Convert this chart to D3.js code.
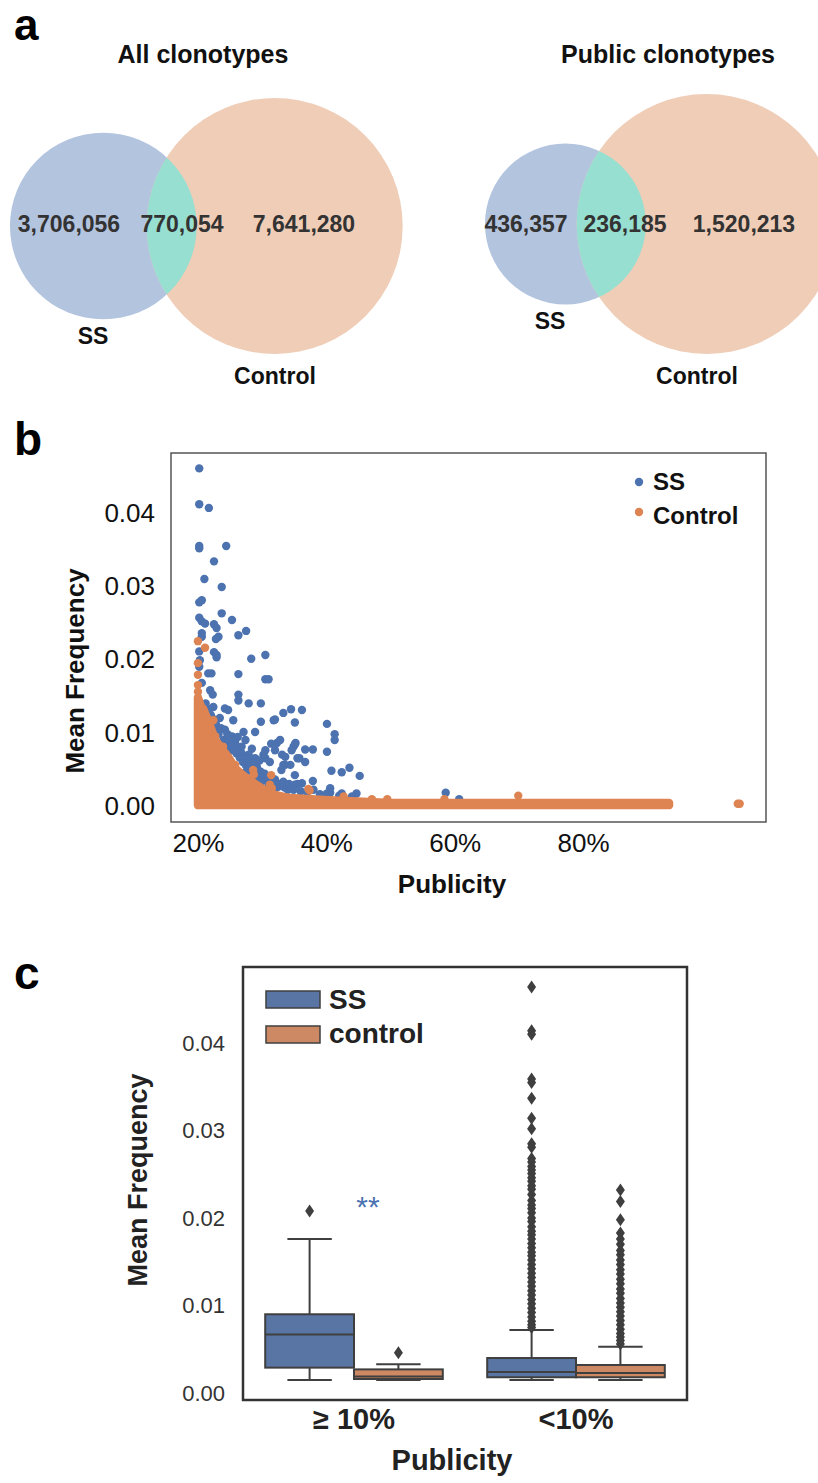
<!DOCTYPE html>
<html>
<head>
<meta charset="utf-8">
<script src="https://cdn.jsdelivr.net/npm/d3@7"></script>
<style>
  body { margin: 0; background: #fff; }
  text { font-family: "Liberation Sans", Arial, Helvetica, sans-serif; }
</style>
</head>
<body>
<div id="chart"></div>
<script>
// ---- panel a : venn counts
var vennTitles = ["All clonotypes", "Public clonotypes"];
var vennSSOnly = [3706056, 436357];
var vennBoth = [770054, 236185];
var vennCtrlOnly = [7641280, 1520213];
var vennSetNames = ["SS", "Control"];

// ---- panel b : publicity vs mean frequency
var ssPoints = [
  [0.202, 0.0461], [0.202, 0.0412], [0.217, 0.0407], [0.202, 0.0355], [0.202, 0.0352], [0.244, 0.0355],
  [0.225, 0.0334], [0.210, 0.0310], [0.237, 0.0299], [0.202, 0.0278], [0.206, 0.0281], [0.237, 0.0263],
  [0.253, 0.0254], [0.202, 0.0257], [0.206, 0.0252], [0.211, 0.0249], [0.225, 0.0248], [0.229, 0.0243],
  [0.275, 0.0239], [0.263, 0.0233], [0.206, 0.0236], [0.206, 0.0231], [0.232, 0.0231], [0.228, 0.0228],
  [0.202, 0.0211], [0.225, 0.0210], [0.229, 0.0206], [0.229, 0.0203], [0.283, 0.0201], [0.305, 0.0206],
  [0.203, 0.0199], [0.202, 0.0190], [0.216, 0.0181], [0.221, 0.0181], [0.263, 0.0180], [0.305, 0.0173],
  [0.310, 0.0173], [0.206, 0.0168], [0.219, 0.0158], [0.223, 0.0152], [0.263, 0.0152], [0.263, 0.0144],
  [0.279, 0.0140], [0.298, 0.0140], [0.224, 0.0135], [0.242, 0.0133], [0.247, 0.0131], [0.333, 0.0127],
  [0.345, 0.0132], [0.362, 0.0131], [0.234, 0.0120], [0.255, 0.0117], [0.225, 0.0115], [0.298, 0.0115],
  [0.318, 0.0117], [0.320, 0.0118], [0.351, 0.0114], [0.401, 0.0112], [0.242, 0.0104], [0.232, 0.0103],
  [0.271, 0.0101], [0.289, 0.0101], [0.253, 0.0095], [0.413, 0.0098], [0.413, 0.0090], [0.258, 0.0086],
  [0.314, 0.0085], [0.323, 0.0086], [0.328, 0.0090], [0.352, 0.0086], [0.349, 0.0081], [0.351, 0.0084],
  [0.268, 0.0081], [0.253, 0.0076], [0.305, 0.0076], [0.320, 0.0076], [0.346, 0.0076], [0.367, 0.0077],
  [0.379, 0.0077], [0.401, 0.0074], [0.279, 0.0070], [0.302, 0.0070], [0.331, 0.0070], [0.289, 0.0065],
  [0.305, 0.0065], [0.336, 0.0067], [0.355, 0.0065], [0.358, 0.0065], [0.367, 0.0060], [0.291, 0.0056],
  [0.333, 0.0056], [0.336, 0.0056], [0.344, 0.0056], [0.297, 0.0047], [0.273, 0.0045], [0.330, 0.0049],
  [0.408, 0.0048], [0.424, 0.0046], [0.436, 0.0052], [0.452, 0.0041], [0.312, 0.0040], [0.305, 0.0036],
  [0.284, 0.0036], [0.351, 0.0042], [0.320, 0.0036], [0.379, 0.0034], [0.362, 0.0031], [0.351, 0.0029],
  [0.355, 0.0030], [0.320, 0.0024], [0.349, 0.0022], [0.406, 0.0024], [0.380, 0.0022], [0.406, 0.0018],
  [0.424, 0.0017], [0.447, 0.0017], [0.401, 0.0017], [0.586, 0.0018], [0.607, 0.0009],
  // blue mass just above the control cloud
  [0.215, 0.0128], [0.220, 0.0124], [0.226, 0.0110], [0.232, 0.0098], [0.240, 0.0090], [0.245, 0.0085],
  [0.250, 0.0080], [0.260, 0.0072], [0.265, 0.0066], [0.270, 0.0060], [0.275, 0.0055], [0.280, 0.0050],
  [0.285, 0.0046], [0.290, 0.0042], [0.295, 0.0038], [0.300, 0.0034], [0.310, 0.0030], [0.315, 0.0027],
  [0.325, 0.0026], [0.335, 0.0025], [0.340, 0.0022], [0.360, 0.0020], [0.370, 0.0019], [0.390, 0.0016],
  [0.420, 0.0014], [0.440, 0.0013], [0.212, 0.0140], [0.218, 0.0132], [0.222, 0.0120], [0.228, 0.0112],
  [0.236, 0.0106], [0.246, 0.0098], [0.250, 0.0090], [0.256, 0.0082], [0.262, 0.0078], [0.268, 0.0072],
  [0.274, 0.0066], [0.280, 0.0060], [0.286, 0.0058], [0.292, 0.0052], [0.298, 0.0046], [0.304, 0.0044],
  [0.310, 0.0038], [0.318, 0.0032], [0.326, 0.0030], [0.333, 0.0033], [0.342, 0.0030], [0.296, 0.0062],
  [0.312, 0.0060], [0.284, 0.0078], [0.274, 0.0090], [0.262, 0.0094]
];
var ctrlPoints = [
  [0.200, 0.0225], [0.211, 0.0216], [0.200, 0.0195], [0.200, 0.0179], [0.200, 0.0165], [0.200, 0.0156],
  [0.203, 0.0133], [0.224, 0.0117], [0.227, 0.0095], [0.239, 0.0081], [0.258, 0.0056], [0.286, 0.0049],
  [0.287, 0.0043], [0.314, 0.0042], [0.312, 0.0029], [0.315, 0.0024], [0.372, 0.0023], [0.374, 0.0021],
  [0.427, 0.0013], [0.471, 0.0009], [0.495, 0.0009], [0.584, 0.0009], [0.699, 0.0014], [1.041, 0.0003],
  [1.044, 0.0003]
];
// upper edge of the dense control cloud (too many points to list one by one)
var ctrlCloudX = [0.200, 0.205, 0.208, 0.216, 0.227, 0.237, 0.247, 0.258, 0.273, 0.289, 0.305, 0.320,
  0.336, 0.344, 0.396, 0.448, 0.500, 0.600, 0.700, 0.800, 0.934];
var ctrlCloudTop = [0.0148, 0.0135, 0.0133, 0.0116, 0.0090, 0.0078, 0.0067, 0.0051, 0.0040, 0.0030, 0.0021,
  0.0015, 0.0012, 0.0011, 0.0008, 0.0006, 0.0004, 0.0004, 0.0004, 0.0004, 0.0004];
var ctrlCloudBottom = 0.0001;
var scatterYTicks = [0, 0.01, 0.02, 0.03, 0.04];
var scatterXTicks = [0.2, 0.4, 0.6, 0.8];

// ---- panel c : box plots  [low whisker, q1, median, q3, high whisker]
var boxCategories = ["\u2265 10%", "<10%"];
var boxGroups = ["SS", "control"];
var ssBoxStats = [[0.0015, 0.0029, 0.0067, 0.0090, 0.0176], [0.0015, 0.0018, 0.0024, 0.0040, 0.0072]];
var ctrlBoxStats = [[0.0015, 0.0016, 0.0019, 0.0027, 0.0033], [0.0015, 0.0018, 0.0023, 0.0032, 0.0053]];
var ssOutliers = [
  [0.0208],
  [0.0464, 0.0414, 0.0410, 0.0359, 0.0355, 0.0337, 0.0314, 0.0302, 0.0285, 0.0281, 0.0268, 0.0264,
   0.0259, 0.0255, 0.0251, 0.0246, 0.0242, 0.0237, 0.0233, 0.0227, 0.0220, 0.0215, 0.0211, 0.0206,
   0.0200, 0.0196, 0.0190, 0.0185, 0.0181, 0.0176, 0.0171, 0.0166, 0.0161, 0.0157, 0.0152, 0.0147,
   0.0142, 0.0137, 0.0132, 0.0127, 0.0122, 0.0117, 0.0112, 0.0107, 0.0102, 0.0097, 0.0092, 0.0087,
   0.0082, 0.0078, 0.0075]
];
var ctrlOutliers = [
  [0.0046],
  [0.0232, 0.0219, 0.0198, 0.0183, 0.0176, 0.0170, 0.0163, 0.0158, 0.0152, 0.0147, 0.0141, 0.0136,
   0.0130, 0.0125, 0.0119, 0.0114, 0.0108, 0.0103, 0.0098, 0.0093, 0.0088, 0.0083, 0.0078, 0.0073,
   0.0068, 0.0064, 0.0060, 0.0056]
];
var boxYTicks = [0, 0.01, 0.02, 0.03, 0.04];

var blue = "#4c72b0", orange = "#dd8452";
var boxBlue = "#5975a4", boxOrange = "#cc8963", boxLine = "#3f3f3f";

var svg = d3.select("#chart").append("svg")
  .attr("width", 818)
  .attr("height", 1483);

// panel letters
var letters = [["a", 14, 40, 44], ["b", 14, 455, 46], ["c", 14, 989, 46]];
svg.selectAll(".letter")
  .data(letters)
  .enter()
  .append("text")
  .attr("class", "letter")
  .attr("x", function (d) { return d[1]; })
  .attr("y", function (d) { return d[2]; })
  .style("font-size", function (d) { return d[3] + "px"; })
  .style("font-weight", "bold")
  .attr("fill", "#000")
  .text(function (d) { return d[0]; });

//Venn diagrams
var vennLayout = [
  { mid: 189, cy: 226, rCtrl: 128, titleX: 203, labelX: [69, 182, 304], ssLabelX: 93, ctrlLabelX: 275 },
  { mid: 636, cy: 224, rCtrl: 130, titleX: 668, labelX: [526, 625, 744], ssLabelX: 550, ctrlLabelX: 697 }
];

function lensArea(r1, r2, d) {
  if (d >= r1 + r2) return 0;
  if (d <= Math.abs(r1 - r2)) return Math.PI * Math.min(r1, r2) * Math.min(r1, r2);
  var a1 = Math.acos((d * d + r1 * r1 - r2 * r2) / (2 * d * r1));
  var a2 = Math.acos((d * d + r2 * r2 - r1 * r1) / (2 * d * r2));
  var k = Math.sqrt((-d + r1 + r2) * (d + r1 - r2) * (d - r1 + r2) * (d + r1 + r2));
  return r1 * r1 * a1 + r2 * r2 * a2 - 0.5 * k;
}

vennTitles.forEach(function (title, i) {
  var L = vennLayout[i];
  var ssTotal = vennSSOnly[i] + vennBoth[i];
  var ctrlTotal = vennCtrlOnly[i] + vennBoth[i];
  var r = d3.scaleSqrt().domain([0, ctrlTotal]).range([0, L.rCtrl]);
  var rSS = r(ssTotal), rCtrl = r(ctrlTotal);
  var target = Math.PI * r(vennBoth[i]) * r(vennBoth[i]);
  // find centre distance giving the overlap area
  var lo = Math.abs(rCtrl - rSS), hi = rSS + rCtrl;
  for (var it = 0; it < 60; it++) {
    var m = (lo + hi) / 2;
    if (lensArea(rSS, rCtrl, m) > target) lo = m; else hi = m;
  }
  var dist = (lo + hi) / 2;
  var ssX = L.mid - dist / 2, ctrlX = L.mid + dist / 2;

  var g = svg.append("g");
  g.append("clipPath").attr("id", "ssclip" + i)
    .append("circle").attr("cx", ssX).attr("cy", L.cy).attr("r", rSS);
  g.append("circle").attr("cx", ssX).attr("cy", L.cy).attr("r", rSS).attr("fill", "#b3c4df");
  g.append("circle").attr("cx", ctrlX).attr("cy", L.cy).attr("r", rCtrl).attr("fill", "#f0cdb7");
  g.append("circle").attr("cx", ctrlX).attr("cy", L.cy).attr("r", rCtrl)
    .attr("clip-path", "url(#ssclip" + i + ")")
    .attr("fill", "#97dfd1");

  g.append("text")
    .attr("x", L.titleX).attr("y", 63)
    .attr("text-anchor", "middle")
    .style("font-size", "25px").style("font-weight", "bold")
    .attr("fill", "#111")
    .text(title);

  var counts = [vennSSOnly[i], vennBoth[i], vennCtrlOnly[i]];
  g.selectAll(".count")
    .data(counts)
    .enter()
    .append("text")
    .attr("class", "count")
    .attr("x", function (d, j) { return L.labelX[j]; })
    .attr("y", 232)
    .attr("text-anchor", "middle")
    .style("font-size", "23px").style("font-weight", "bold")
    .attr("fill", "#333")
    .text(function (d) { return d3.format(",")(d); });

  g.append("text")
    .attr("x", L.ssLabelX).attr("y", L.cy + rSS + 25)
    .attr("text-anchor", "middle")
    .style("font-size", "23px").style("font-weight", "bold")
    .attr("fill", "#111")
    .text(vennSetNames[0]);
  g.append("text")
    .attr("x", L.ctrlLabelX).attr("y", L.cy + rCtrl + 30)
    .attr("text-anchor", "middle")
    .style("font-size", "23px").style("font-weight", "bold")
    .attr("fill", "#111")
    .text(vennSetNames[1]);
});

//Scatter
var xB = d3.scaleLinear().domain([0.158, 1.085]).range([171, 766]);
var yB = d3.scaleLinear().domain([-0.0022, 0.0482]).range([822, 453]);
var gb = svg.append("g");

gb.selectAll(".ss")
  .data(ssPoints)
  .enter()
  .append("circle")
  .attr("class", "ss")
  .attr("cx", function (d) { return xB(d[0]); })
  .attr("cy", function (d) { return yB(d[1]); })
  .attr("r", 4.2)
  .attr("fill", blue);

var cloud = ctrlCloudX.map(function (x, i) { return [x, ctrlCloudTop[i]]; });
gb.append("path")
  .datum(cloud)
  .attr("d", d3.area()
    .x(function (d) { return xB(d[0]); })
    .y0(yB(ctrlCloudBottom))
    .y1(function (d) { return yB(d[1]); }))
  .attr("fill", orange)
  .attr("stroke", orange)
  .attr("stroke-width", 8.4)
  .attr("stroke-linejoin", "round");

gb.selectAll(".ctrl")
  .data(ctrlPoints)
  .enter()
  .append("circle")
  .attr("class", "ctrl")
  .attr("cx", function (d) { return xB(d[0]); })
  .attr("cy", function (d) { return yB(d[1]); })
  .attr("r", 4.2)
  .attr("fill", orange);

gb.append("rect")
  .attr("x", 171).attr("y", 453)
  .attr("width", 595).attr("height", 369)
  .attr("fill", "none")
  .attr("stroke", "#555")
  .attr("stroke-width", 1.5);

var axYB = gb.append("g").attr("transform", "translate(171,0)")
  .call(d3.axisLeft(yB).tickValues(scatterYTicks).tickSize(0).tickPadding(16).tickFormat(d3.format(".2f")));
var axXB = gb.append("g").attr("transform", "translate(0,822)")
  .call(d3.axisBottom(xB).tickValues(scatterXTicks).tickSize(0).tickPadding(12).tickFormat(d3.format(".0%")));
[axYB, axXB].forEach(function (ax) {
  ax.select(".domain").remove();
  ax.selectAll("text")
    .style("font-family", "'Liberation Sans', Arial, sans-serif")
    .style("font-size", "26px")
    .attr("fill", "#111");
});

gb.append("text")
  .attr("transform", "translate(84,671) rotate(-90)")
  .attr("text-anchor", "middle")
  .style("font-size", "26px").style("font-weight", "bold")
  .attr("fill", "#111")
  .text("Mean Frequency");
gb.append("text")
  .attr("x", 452).attr("y", 893)
  .attr("text-anchor", "middle")
  .style("font-size", "26px").style("font-weight", "bold")
  .attr("fill", "#111")
  .text("Publicity");

var legB = [["SS", blue, 482, 490], ["Control", orange, 512, 524]];
legB.forEach(function (l) {
  gb.append("circle").attr("cx", 639).attr("cy", l[2]).attr("r", 4.2).attr("fill", l[1]);
  gb.append("text").attr("x", 653).attr("y", l[3])
    .style("font-size", "24px").style("font-weight", "bold")
    .attr("fill", "#111")
    .text(l[0]);
});

//Box plots
var xC = d3.scaleBand().domain(boxCategories).range([243, 687]);
var xG = d3.scaleBand().domain(boxGroups).range([0.1 * xC.bandwidth(), 0.9 * xC.bandwidth()]);
var yC = d3.scaleLinear().domain([-0.0008, 0.0487]).range([1400, 967]);
var gc = svg.append("g");
var diamond = "M0,-6.5L4.5,0L0,6.5L-4.5,0Z";

var boxSeries = [
  { name: "SS", stats: ssBoxStats, outliers: ssOutliers, fill: boxBlue },
  { name: "control", stats: ctrlBoxStats, outliers: ctrlOutliers, fill: boxOrange }
];

boxSeries.forEach(function (s) {
  boxCategories.forEach(function (cat, i) {
    var st = s.stats[i];
    var x0 = xC(cat) + xG(s.name), w = xG.bandwidth(), cx = x0 + w / 2;
    var b = gc.append("g");
    b.append("line").attr("x1", cx).attr("x2", cx).attr("y1", yC(st[3])).attr("y2", yC(st[4]));
    b.append("line").attr("x1", cx).attr("x2", cx).attr("y1", yC(st[1])).attr("y2", yC(st[0]));
    b.append("line").attr("x1", cx - w / 4).attr("x2", cx + w / 4).attr("y1", yC(st[4])).attr("y2", yC(st[4]));
    b.append("line").attr("x1", cx - w / 4).attr("x2", cx + w / 4).attr("y1", yC(st[0])).attr("y2", yC(st[0]));
    b.append("rect")
      .attr("x", x0).attr("width", w)
      .attr("y", yC(st[3])).attr("height", yC(st[1]) - yC(st[3]))
      .attr("fill", s.fill);
    b.append("line").attr("x1", x0).attr("x2", x0 + w).attr("y1", yC(st[2])).attr("y2", yC(st[2]));
    b.selectAll("line, rect").attr("stroke", boxLine).attr("stroke-width", 2);
    b.selectAll(".flier")
      .data(s.outliers[i])
      .enter()
      .append("path")
      .attr("class", "flier")
      .attr("d", diamond)
      .attr("transform", function (d) { return "translate(" + cx + "," + yC(d) + ")"; })
      .attr("fill", boxLine);
  });
});

gc.append("rect")
  .attr("x", 243).attr("y", 967)
  .attr("width", 444).attr("height", 433)
  .attr("fill", "none")
  .attr("stroke", "#333")
  .attr("stroke-width", 2.5);

var axYC = gc.append("g").attr("transform", "translate(243,0)")
  .call(d3.axisLeft(yC).tickValues(boxYTicks).tickSize(0).tickPadding(18).tickFormat(d3.format(".2f")));
axYC.select(".domain").remove();
axYC.selectAll("text")
  .style("font-family", "'Liberation Sans', Arial, sans-serif")
  .style("font-size", "22px")
  .attr("fill", "#333");

var axXC = gc.append("g").attr("transform", "translate(0,1400)")
  .call(d3.axisBottom(xC).tickSize(0).tickPadding(8));
axXC.select(".domain").remove();
axXC.selectAll("text")
  .style("font-family", "'Liberation Sans', Arial, sans-serif")
  .style("font-size", "29px")
  .style("font-weight", "bold")
  .attr("fill", "#222");

gc.append("text")
  .attr("transform", "translate(147,1180) rotate(-90)")
  .attr("text-anchor", "middle")
  .style("font-size", "27px").style("font-weight", "bold")
  .attr("fill", "#222")
  .text("Mean Frequency");
gc.append("text")
  .attr("x", 452).attr("y", 1470)
  .attr("text-anchor", "middle")
  .style("font-size", "29px").style("font-weight", "bold")
  .attr("fill", "#222")
  .text("Publicity");

gc.append("text")
  .attr("x", 368).attr("y", 1217)
  .attr("text-anchor", "middle")
  .style("font-size", "30px")
  .attr("fill", blue)
  .text("**");

var legC = [["SS", boxBlue, 991, 1009], ["control", boxOrange, 1026, 1043]];
legC.forEach(function (l) {
  gc.append("rect").attr("x", 266).attr("y", l[2]).attr("width", 54).attr("height", 17)
    .attr("fill", l[1]).attr("stroke", boxLine).attr("stroke-width", 1.5);
  gc.append("text").attr("x", 329).attr("y", l[3])
    .style("font-size", "28px").style("font-weight", "bold")
    .attr("fill", "#222")
    .text(l[0]);
});
</script>
</body>
</html>
